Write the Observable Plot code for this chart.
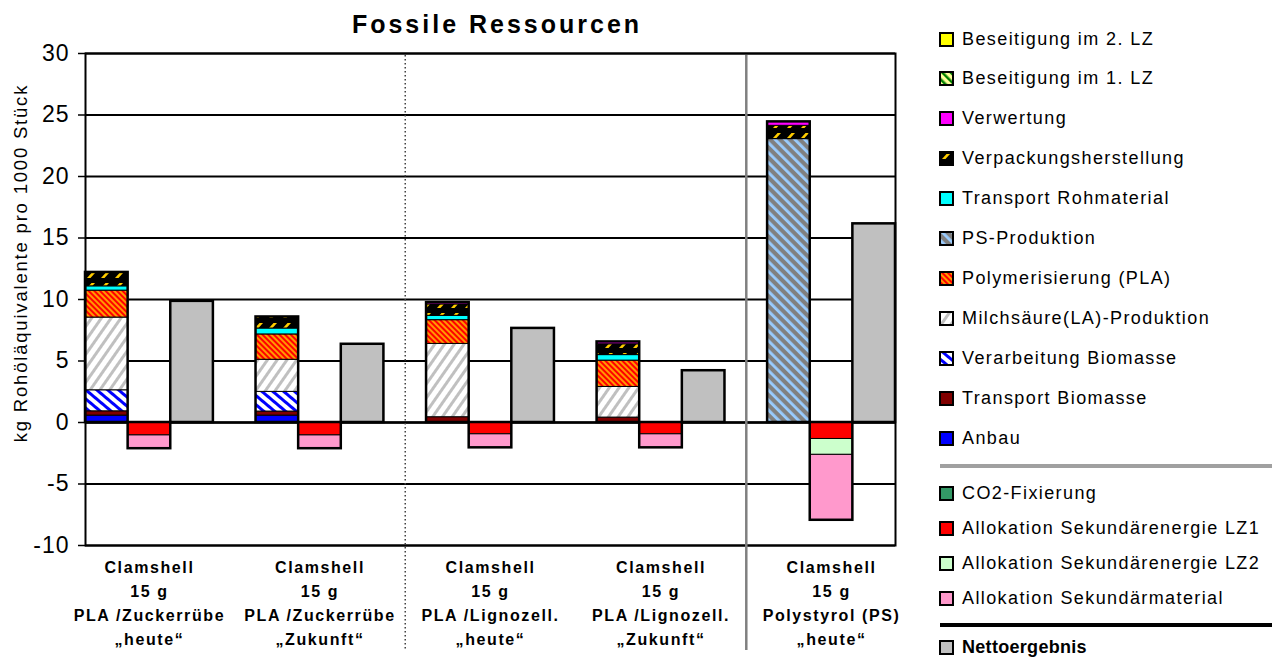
<!DOCTYPE html>
<html><head><meta charset="utf-8">
<script src="https://cdn.jsdelivr.net/npm/d3@7"></script>
<script src="https://cdn.jsdelivr.net/npm/@observablehq/plot@0.6"></script>
<style>
body{margin:0;background:#fff;font-family:"Liberation Sans",Arial,sans-serif;color:#000;}
#wrap{position:relative;width:1272px;height:657px;overflow:hidden;background:#fff;}
#chart{position:absolute;left:0;top:0;}
#title{position:absolute;left:0;width:994px;top:9px;line-height:30px;text-align:center;font-weight:bold;font-size:25px;letter-spacing:3px;}
#ylabel{position:absolute;left:21px;top:263px;transform:translate(-50%,-50%) rotate(-90deg);white-space:nowrap;font-size:18.5px;letter-spacing:1.8px;}
.li{position:absolute;left:939px;height:20px;display:flex;align-items:center;font-size:18px;letter-spacing:1.4px;white-space:nowrap;}
.li svg{margin-right:8px;flex:none;}
.sep{position:absolute;left:940px;width:332px;}
#chart g[aria-label="y-axis tick label"] text{letter-spacing:1px;}
#chart g[aria-label="x-axis tick label"] text{letter-spacing:1.6px;}
</style>
</head><body>
<div id="wrap">
<svg width="0" height="0" style="position:absolute">
<defs>
<pattern id="pVerp" patternUnits="userSpaceOnUse" width="14" height="10">
<rect width="14" height="10" fill="#000"/><path d="M3,8 L6.5,8 L11,3 L7.5,3 Z" fill="#FFCC00"/>
</pattern>
<pattern id="pPS" patternUnits="userSpaceOnUse" width="7" height="7" patternTransform="rotate(-45)">
<rect width="7" height="7" fill="#808080"/><rect width="2.8" height="7" fill="#99CCFF"/>
</pattern>
<pattern id="pPLA" patternUnits="userSpaceOnUse" width="4" height="4" patternTransform="rotate(-45)">
<rect width="4" height="4" fill="#FF9900"/><rect width="2" height="4" fill="#FF0000"/>
</pattern>
<pattern id="pLA" patternUnits="userSpaceOnUse" width="8" height="8" patternTransform="rotate(35)">
<rect width="8" height="8" fill="#FFFFFF"/><rect width="3" height="8" fill="#C0C0C0"/>
</pattern>
<pattern id="pVB" patternUnits="userSpaceOnUse" width="7" height="7" patternTransform="rotate(-50)">
<rect width="7" height="7" fill="#FFFFFF"/><rect width="3" height="7" fill="#0000FF"/>
</pattern>
<pattern id="pB1" patternUnits="userSpaceOnUse" width="6" height="6" patternTransform="rotate(-45)">
<rect width="6" height="6" fill="#FFFF99"/><rect width="2.5" height="6" fill="#008000"/>
</pattern>
</defs>
</svg>
<div id="chart"></div>
<div id="title">Fossile Ressourcen</div>
<div id="ylabel">kg Rohöläquivalente pro 1000 Stück</div>
<div id="legend"></div>
</div>
<script>
// ---- data ----
const groups = [
  "Clamshell\n15 g\nPLA /Zuckerrübe\n„heute“",
  "Clamshell\n15 g\nPLA /Zuckerrübe\n„Zukunft“",
  "Clamshell\n15 g\nPLA /Lignozell.\n„heute“",
  "Clamshell\n15 g\nPLA /Lignozell.\n„Zukunft“",
  "Clamshell\n15 g\nPolystyrol (PS)\n„heute“"
];
const anbau                = [0.56, 0.56, 0,    0,    0];
const transportBiomasse    = [0.35, 0.33, 0.43, 0.40, 0];
const verarbeitungBiomasse = [1.71, 1.60, 0,    0,    0];
const milchsaeure          = [5.91, 2.61, 5.96, 2.49, 0];
const polymerisierung      = [2.19, 2.06, 1.93, 2.14, 0];
const psProduktion         = [0,    0,    0,    0,    23.04];
const transportRohmaterial = [0.35, 0.48, 0.35, 0.45, 0];
const verpackung           = [1.13, 0.94, 0.93, 0.88, 1.08];
const verwertung           = [0,    0,    0.15, 0.19, 0.32];
const beseitigung1         = [0,    0,    0,    0,    0];
const beseitigung2         = [0,    0,    0,    0,    0];
const co2Fixierung         = [0,    0,    0,    0,    0];
const allokLZ1             = [-1.05, -1.05, -0.96, -0.96, -1.34];
const allokLZ2             = [0,     0,     0,     0,     -1.29];
const allokMaterial        = [-1.08, -1.08, -1.1,  -1.1,  -5.32];
const netto                = [9.85, 6.36, 7.65, 4.21, 16.15];
const yTicks = [-10, -5, 0, 5, 10, 15, 20, 25, 30];

const fills = {
  "Beseitigung im 2. LZ": "#FFFF00",
  "Beseitigung im 1. LZ": "url(#pB1)",
  "Verwertung": "#FF00FF",
  "Verpackungsherstellung": "url(#pVerp)",
  "Transport Rohmaterial": "#00FFFF",
  "PS-Produktion": "url(#pPS)",
  "Polymerisierung (PLA)": "url(#pPLA)",
  "Milchsäure(LA)-Produktion": "url(#pLA)",
  "Verarbeitung Biomasse": "url(#pVB)",
  "Transport Biomasse": "#800000",
  "Anbau": "#0000FF",
  "CO2-Fixierung": "#339966",
  "Allokation Sekundärenergie LZ1": "#FF0000",
  "Allokation Sekundärenergie LZ2": "#CCFFCC",
  "Allokation Sekundärmaterial": "#FF99CC",
  "Nettoergebnis": "#C0C0C0"
};

const posSeries = [
  ["Anbau", anbau],
  ["Transport Biomasse", transportBiomasse],
  ["Verarbeitung Biomasse", verarbeitungBiomasse],
  ["Milchsäure(LA)-Produktion", milchsaeure],
  ["Polymerisierung (PLA)", polymerisierung],
  ["PS-Produktion", psProduktion],
  ["Transport Rohmaterial", transportRohmaterial],
  ["Verpackungsherstellung", verpackung],
  ["Verwertung", verwertung],
  ["Beseitigung im 1. LZ", beseitigung1],
  ["Beseitigung im 2. LZ", beseitigung2]
];
const negSeries = [
  ["CO2-Fixierung", co2Fixierung],
  ["Allokation Sekundärenergie LZ1", allokLZ1],
  ["Allokation Sekundärenergie LZ2", allokLZ2],
  ["Allokation Sekundärmaterial", allokMaterial]
];

// ---- build rows ----
const SLOTS = 4; // 3 bars + 1 gap per group
const rows = [];
const outlines = [];
groups.forEach((g, i) => {
  let ps = 0, ns = 0;
  posSeries.forEach(([name, vals]) => { if (vals[i]) { rows.push({slot: SLOTS*i, comp: name, value: vals[i]}); ps += vals[i]; } });
  negSeries.forEach(([name, vals]) => { if (vals[i]) { rows.push({slot: SLOTS*i+1, comp: name, value: vals[i]}); ns += vals[i]; } });
  rows.push({slot: SLOTS*i+2, comp: "Nettoergebnis", value: netto[i]});
  outlines.push({slot: SLOTS*i, total: ps}, {slot: SLOTS*i+1, total: ns}, {slot: SLOTS*i+2, total: netto[i]});
});
const slotDomain = d3.range(SLOTS*groups.length - 1);
const groupCenters = groups.map((g, i) => SLOTS*i + 1);

const chart = Plot.plot({
  width: 900, height: 657,
  marginLeft: 85, marginRight: 5, marginTop: 53, marginBottom: 112,
  style: {fontFamily: "Liberation Sans, Arial, sans-serif", color: "#000", background: "transparent"},
  x: {type: "band", domain: slotDomain, padding: 0, round: false},
  y: {domain: [-10, 30]},
  color: {type: "identity"},
  marks: [
    Plot.gridY(yTicks, {stroke: "#000", strokeOpacity: 1, strokeWidth: 2}),
    Plot.ruleY([0], {stroke: "#000", strokeWidth: 2.5}),
    Plot.barY(rows, {x: "slot", y: "value", fill: d => fills[d.comp], stroke: "#000", strokeWidth: 1}),
    Plot.barY(outlines, {x: "slot", y1: d => 0, y2: "total", fill: "none", stroke: "#000", strokeWidth: 2.5}),
    Plot.frame({stroke: "#000", strokeWidth: 2}),
    Plot.ruleX([groupCenters[2] - 2], {stroke: "#404040", strokeWidth: 1.5, strokeDasharray: "1.5,2.5", insetBottom: -105, insetTop: 2}),
    Plot.ruleX([groupCenters[4] - 2], {stroke: "#808080", strokeWidth: 2.5, insetBottom: -105, insetTop: 2}),
    Plot.axisY({ticks: yTicks, tickSize: 7, tickPadding: 9, fontSize: 23, tickFormat: d => String(d), label: null, strokeWidth: 1.5}),
    Plot.axisX({ticks: groupCenters, tickSize: 0, tickPadding: 10, fontSize: 16, fontWeight: "bold", lineHeight: 1.5,
      tickFormat: s => groups[Math.round((s - 1) / SLOTS)], label: null})
  ]
});
document.getElementById("chart").appendChild(chart);

// ---- legend ----
const legendTop = ["Beseitigung im 2. LZ","Beseitigung im 1. LZ","Verwertung","Verpackungsherstellung","Transport Rohmaterial","PS-Produktion","Polymerisierung (PLA)","Milchsäure(LA)-Produktion","Verarbeitung Biomasse","Transport Biomasse","Anbau"];
const legendNeg = ["CO2-Fixierung","Allokation Sekundärenergie LZ1","Allokation Sekundärenergie LZ2","Allokation Sekundärmaterial"];
const legend = document.getElementById("legend");
function item(name, cy, bold) {
  const d = document.createElement("div");
  d.className = "li";
  d.style.top = (cy - 10) + "px";
  if (bold) { d.style.fontWeight = "bold"; d.style.letterSpacing = "0.3px"; }
  d.innerHTML = `<svg width="15" height="15"><rect x="1" y="1" width="13" height="13" fill="${fills[name]}" stroke="#000" stroke-width="2"/></svg><span>${name}</span>`;
  legend.appendChild(d);
}
legendTop.forEach((n, i) => item(n, 39 + i * 39.9));
legendNeg.forEach((n, i) => item(n, 493 + i * 35));
item("Nettoergebnis", 647, true);
const s1 = document.createElement("div"); s1.className = "sep"; s1.style.top = "464px"; s1.style.height = "4px"; s1.style.background = "#A0A0A0"; legend.appendChild(s1);
const s2 = document.createElement("div"); s2.className = "sep"; s2.style.top = "623px"; s2.style.height = "4px"; s2.style.background = "#000"; legend.appendChild(s2);
</script>
</body></html>
